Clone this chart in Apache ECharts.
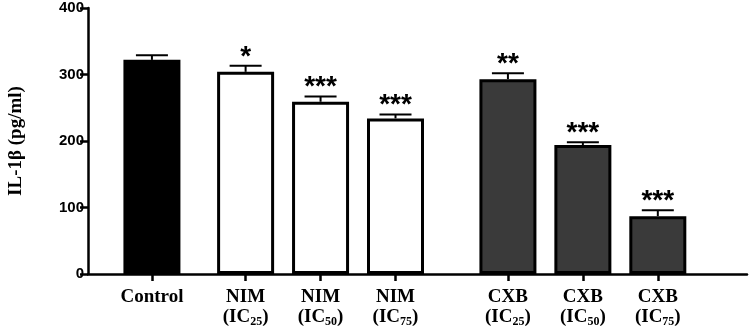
<!DOCTYPE html>
<html>
<head>
<meta charset="utf-8">
<script src="https://cdn.jsdelivr.net/npm/echarts@6/dist/echarts.min.js"></script>
<style>
  html, body { margin: 0; padding: 0; background: #fff; }
  #chart { width: 749px; height: 334px; }
</style>
</head>
<body>
<div id="chart"></div>
<script>
  // chart values
  var drugs = ['Control', 'NIM', 'NIM', 'NIM', 'CXB', 'CXB', 'CXB'];
  var doses = ['', '25', '50', '75', '25', '50', '75'];
  var means = [322, 304, 259, 234, 293, 194, 87];
  var errors = [7, 9, 8, 6, 9, 4, 9];
  var stars = ['', '*', '***', '***', '**', '***', '***'];
  var yTicks = [0, 100, 200, 300, 400];

  // gap between groups (in bar slots)
  var groupShift = { Control: 0, NIM: 0.25, CXB: 0.75 };
  var groupFill = { Control: '#000000', NIM: '#ffffff', CXB: '#3a3a3a' };

  var xPos = drugs.map(function (d, i) { return i + groupShift[d]; });

  var barData = means.map(function (m, i) {
    return {
      value: [xPos[i], m],
      itemStyle: { color: groupFill[drugs[i]] }
    };
  });
  var errData = means.map(function (m, i) {
    return [xPos[i], m, errors[i], i];
  });

  function labelFor(v) {
    var best = 0;
    for (var i = 1; i < xPos.length; i++) {
      if (Math.abs(xPos[i] - v) < Math.abs(xPos[best] - v)) best = i;
    }
    if (!doses[best]) return '{b|' + drugs[best] + '}';
    return '{b|' + drugs[best] + '}\n{b|(IC}{s|' + doses[best] + '}{b|)}';
  }

  var chart = echarts.init(document.getElementById('chart'));
  var option = {
    animation: false,
    grid: { left: 88, right: 2, top: 8, bottom: 60, containLabel: false, outerBoundsMode: 'none' },
    xAxis: {
      type: 'value',
      min: -0.853,
      max: 7.94,
      splitLine: { show: false },
      axisLine: { show: true, onZero: false, lineStyle: { color: '#000', width: 2.5 } },
      axisTick: { show: true, customValues: xPos, length: 7, lineStyle: { color: '#000', width: 2.5 } },
      axisLabel: {
        customValues: xPos,
        margin: 13,
        lineHeight: 20,
        formatter: labelFor,
        rich: {
          b: { fontFamily: 'Liberation Serif', fontWeight: 'bold', fontSize: 19, color: '#000', lineHeight: 20 },
          s: { fontFamily: 'Liberation Serif', fontWeight: 'bold', fontSize: 12, color: '#000', padding: [9, 0, 0, 0], lineHeight: 20 }
        }
      }
    },
    yAxis: {
      type: 'value',
      min: yTicks[0],
      max: yTicks[yTicks.length - 1],
      interval: 100,
      name: 'IL-1\u03b2 (pg/ml)',
      nameLocation: 'middle',
      nameGap: 62,
      nameTextStyle: { fontFamily: 'Liberation Serif', fontWeight: 'bold', fontSize: 19, color: '#000' },
      splitLine: { show: false },
      axisLine: { show: true, onZero: false, lineStyle: { color: '#000', width: 2.5 } },
      axisTick: { show: true, length: 8, lineStyle: { color: '#000', width: 2.5 } },
      axisLabel: { fontFamily: 'Liberation Sans', fontWeight: 'bold', fontSize: 15, color: '#000', margin: 4 }
    },
    series: [
      {
        type: 'bar',
        barWidth: 57,
        itemStyle: { borderColor: '#000', borderWidth: 3 },
        data: barData,
        z: 2
      },
      {
        type: 'custom',
        z: 3,
        renderItem: function (params, api) {
          var x = api.value(0), m = api.value(1), e = api.value(2), idx = api.value(3);
          var top = api.coord([x, m]);
          var hi = api.coord([x, m + e]);
          var children = [
            { type: 'line', shape: { x1: top[0], y1: top[1], x2: hi[0], y2: hi[1] }, style: { stroke: '#000', lineWidth: 2 } },
            { type: 'line', shape: { x1: hi[0] - 16, y1: hi[1], x2: hi[0] + 16, y2: hi[1] }, style: { stroke: '#000', lineWidth: 2 } }
          ];
          if (stars[idx]) {
            children.push({
              type: 'text',
              style: {
                text: stars[idx],
                x: hi[0], y: hi[1] - 9,
                align: 'center', verticalAlign: 'middle',
                font: 'bold 28px "Liberation Sans"',
                fill: '#000'
              }
            });
          }
          return { type: 'group', children: children };
        },
        data: errData
      }
    ]
  };
  chart.setOption(option);
</script>
</body>
</html>
